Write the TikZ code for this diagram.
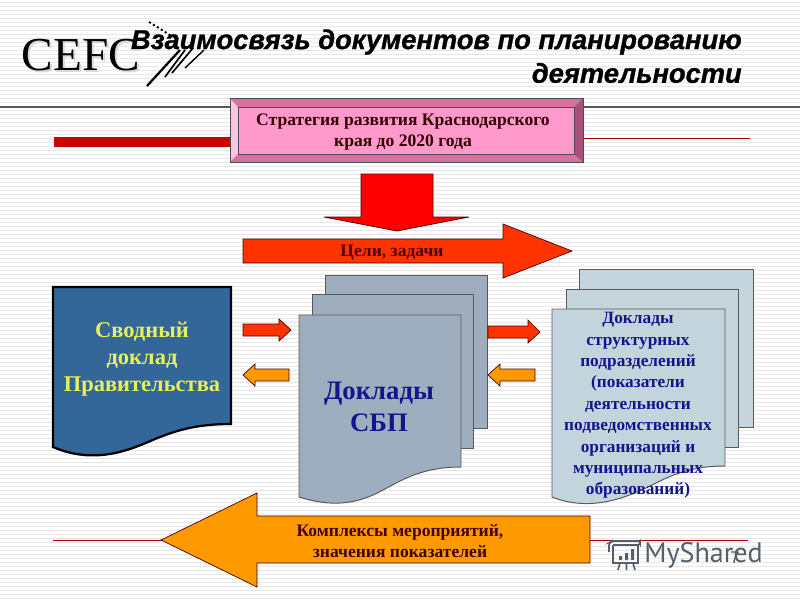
\documentclass[tikz,border=0pt]{standalone}
\usepackage{fontspec}
\setmainfont{Liberation Serif}
\newfontfamily\titlefont{Liberation Sans}[BoldItalicFeatures={FakeBold=1}]
\newfontfamily\markfont{PT Sans}
\usetikzlibrary{calc}

\definecolor{stripegray}{HTML}{E8E8E8}
\definecolor{pinkbox}{HTML}{FF99CC}
\definecolor{pinklight}{HTML}{FFC4E2}
\definecolor{pinkmid}{HTML}{D9709F}
\definecolor{pinkdark}{HTML}{A8507C}
\definecolor{redbar}{HTML}{CC0000}
\definecolor{redarrow}{HTML}{FF3300}
\definecolor{orangearrow}{HTML}{FF9900}
\definecolor{bluedoc}{HTML}{336699}
\definecolor{yellowtext}{HTML}{E6F05A}
\definecolor{graydoc}{HTML}{9FAEBF}
\definecolor{lightdoc}{HTML}{C3D4DC}
\definecolor{navytext}{HTML}{14148C}
\definecolor{marktext}{HTML}{55606A}

\tikzset{
    bluntarrow/.style={draw=black!70!red, line width=0.5pt},
    sheet/.style={draw=black!65, line width=0.7pt},
    boxtext/.style={font=\bfseries\fontsize{12.5}{15.4}\selectfont, align=center},
}

\begin{document}
\begin{tikzpicture}[x=0.25mm, y=-0.25mm]
    \useasboundingbox (0, 0) rectangle (800, 600);
    \fill[white] (0, 0) rectangle (800, 600);
    % stripes
    \foreach \ypos in {2,6,...,598} {
        \draw[stripegray, line width=0.45pt] (0, \ypos) -- (800, \ypos);
    }
    % rules
    \draw[black!65, line width=0.8pt] (0, 107) -- (800, 107);
    \fill[redbar] (54, 137) rectangle (232, 147);
    \draw[red!70!black, line width=0.4pt] (583, 138) -- (750, 138);
    \draw[red!70!black, line width=0.4pt] (53, 540) -- (165, 540);
    \draw[red!70!black, line width=0.4pt] (590, 540) -- (748, 540);

    % logo
    \node[font=\fontsize{33.6}{34}\selectfont, text=black!15, inner sep=0pt] at (83, 57) {CEFC};
    \node (logo) [font=\fontsize{33.6}{34}\selectfont, inner sep=0pt] at (81, 55) {CEFC};
    \foreach \xa/\ya/\xb/\yb/\wid in {
        147/86/180/50/1.6, 165/77/185/50/1.2, 172/73/193/48/1.2, 185/68/204/50/1.0} {
        \draw[line width=\wid pt] (\xa, \ya) -- (\xb, \yb);
    }
    \draw[line width=1.3pt, dash pattern=on 1.5pt off 1.8pt] (149, 22) -- (170, 35);

    % title
    \node (title1) [anchor=east, font=\titlefont\bfseries\itshape\fontsize{19.4}{20}\selectfont, inner sep=0pt] at (742, 42) {Взаимосвязь документов по планированию};
    \node (title2) [anchor=east, font=\titlefont\bfseries\itshape\fontsize{19.4}{20}\selectfont, inner sep=0pt] at (742, 73) {деятельности};

    % strategy box
    \fill[pinkbox] (230, 98) rectangle (583, 162);
    \fill[pinklight] (230, 98) -- (238, 107) -- (238, 154) -- (230, 162) -- cycle;
    \fill[pinkmid] (230, 98) -- (583, 98) -- (574, 107) -- (238, 107) -- cycle;
    \fill[pinkmid] (230, 162) -- (583, 162) -- (574, 154) -- (238, 154) -- cycle;
    \fill[pinkdark] (583, 98) -- (583, 162) -- (574, 154) -- (574, 107) -- cycle;
    \draw[black!70, line width=0.7pt] (230, 98) rectangle (583, 162);
    \draw[black!70, line width=0.7pt] (238, 107) rectangle (574, 154);
    \node (strategy) [boxtext, text=black!80!red] at (403, 132) {Стратегия развития Краснодарского\\края до 2020 года};

    % big arrows
    \draw[bluntarrow, fill=red] (361, 174) -- (433, 174) -- (433, 217) -- (469, 217) -- (397, 231) -- (324, 217) -- (361, 217) -- cycle;
    \draw[bluntarrow, fill=redarrow] (243, 239) -- (503, 239) -- (503, 224) -- (572, 251) -- (503, 278) -- (503, 263) -- (243, 263) -- cycle;
    \node (goals) [boxtext, text=black!70!red] at (392, 253) {Цели, задачи};

    % summary report
    \draw[black, line width=1.6pt, fill=bluedoc] (53, 287) -- (231, 287) -- (231, 424) .. controls (195, 424) and (175, 431) .. (155, 439) .. controls (130, 450) and (95, 465) .. (53, 447) -- cycle;
    \node (summary) [font=\bfseries\fontsize{16}{19.2}\selectfont, align=center, text=yellowtext] at (142, 359) {Сводный\\доклад\\Правительства};

    % grey stack
    \draw[sheet, fill=graydoc] (325, 275) rectangle (487, 428);
    \draw[sheet, fill=graydoc] (312, 294) rectangle (473, 448);
    \draw[sheet, fill=graydoc] (299, 315) -- (461, 315) -- (461, 467) .. controls (425, 467) and (405, 478) .. (385, 489) .. controls (365, 500) and (340, 510) .. (299, 497) -- cycle;
    \node (sbp) [font=\bfseries\fontsize{19}{22.5}\selectfont, align=center, text=navytext] at (379, 407) {Доклады\\СБП};

    % light stack
    \draw[sheet, fill=lightdoc] (579, 269) rectangle (753, 427);
    \draw[sheet, fill=lightdoc] (566, 289) rectangle (738, 447);
    \draw[sheet, fill=lightdoc] (552, 309) -- (725, 309) -- (725, 466) .. controls (688, 466) and (668, 477) .. (648, 487) .. controls (625, 498) and (590, 512) .. (552, 497) -- cycle;
    \node (units) [font=\bfseries\fontsize{12.3}{15.2}\selectfont, align=center, text=navytext] at (638, 405.5) {Доклады\\структурных\\подразделений\\(показатели\\деятельности\\подведомственных\\организаций и\\муниципальных\\образований)};

    % small arrows
    \draw[bluntarrow, fill=redarrow] (243, 324) -- (279, 324) -- (279, 319) -- (291, 330) -- (279, 341) -- (279, 336) -- (243, 336) -- cycle;
    \draw[bluntarrow, fill=orangearrow] (289, 369) -- (255, 369) -- (255, 364) -- (243, 375) -- (255, 386) -- (255, 381) -- (289, 381) -- cycle;
    \draw[bluntarrow, fill=redarrow] (488, 326) -- (528, 326) -- (528, 320) -- (540, 332) -- (528, 343) -- (528, 338) -- (488, 338) -- cycle;
    \draw[bluntarrow, fill=orangearrow] (535, 369) -- (500, 369) -- (500, 364) -- (488, 375) -- (500, 386) -- (500, 381) -- (535, 381) -- cycle;

    % back arrow
    \draw[bluntarrow, fill=orangearrow] (590, 516) -- (257, 516) -- (257, 493) -- (161, 540) -- (257, 587) -- (257, 563) -- (590, 563) -- cycle;
    \node (measures) [boxtext, text=black!75!red] at (400, 541) {Комплексы мероприятий,\\значения показателей};

    % page mark
    \node (pagenum) [font=\titlefont\fontsize{12}{12}\selectfont, text=black!70] at (735, 558) {7};
    \node (mark) [anchor=west, font=\markfont\fontsize{20}{20}\selectfont, text=marktext, inner sep=0pt] at (644, 555) {MyShared};
    \draw[marktext, line width=1.2pt, rounded corners=1.5pt] (609, 552) -- (609, 543) -- (612, 541) -- (640, 541) -- (640, 545) -- (613, 545);
    \draw[marktext, line width=1.2pt] (613, 545) -- (613, 563) -- (638, 563) -- (638, 545);
    \draw[marktext, line width=1.2pt] (620, 563) -- (618, 570) (633, 563) -- (635, 570) (626.5, 563) -- (626.5, 570);
    \fill[marktext] (619, 556) rectangle (622, 560) (625, 553) rectangle (628, 560) (631, 549) rectangle (634, 560);
\end{tikzpicture}
\end{document}
